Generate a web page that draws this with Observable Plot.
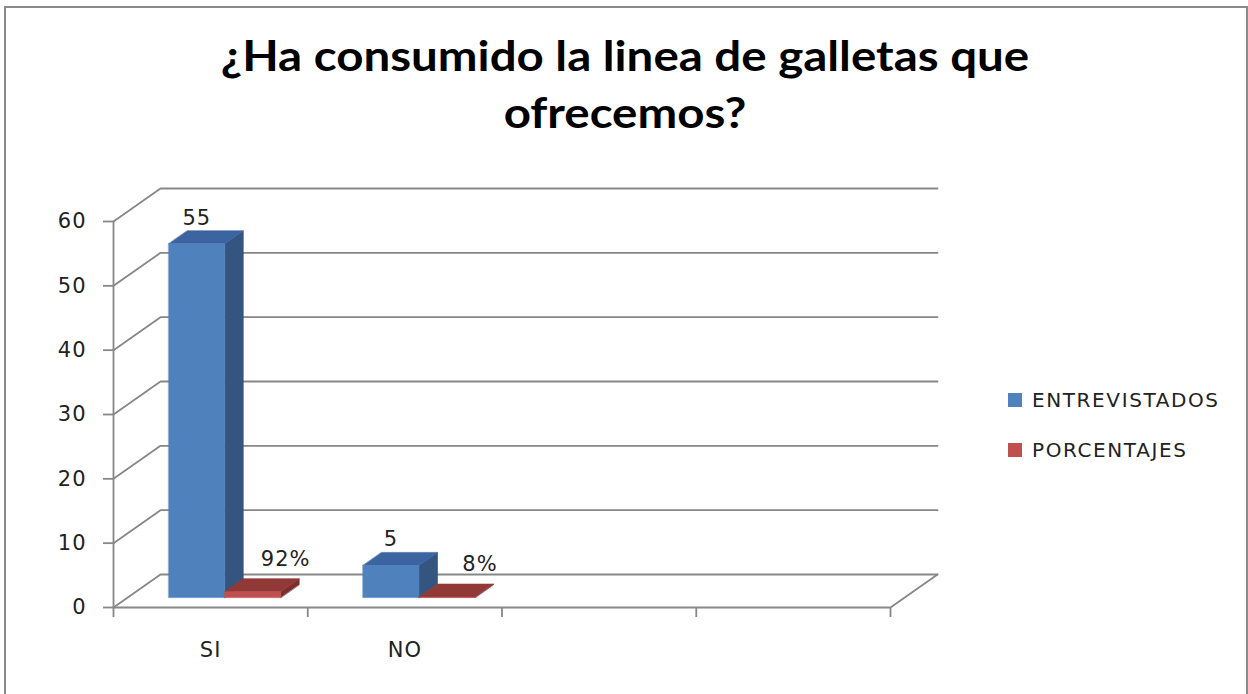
<!DOCTYPE html>
<html>
<head>
<meta charset="utf-8">
<script src="https://cdn.jsdelivr.net/npm/d3@7"></script>
<script src="https://cdn.jsdelivr.net/npm/@observablehq/plot@0.6"></script>
<style>
  html, body { margin: 0; padding: 0; background: #fff; }
  #page { position: relative; width: 1248px; height: 694px; overflow: hidden; background: #fff; }
  #border { position: absolute; left: 4px; top: 6px; width: 1244px; height: 720px; box-sizing: border-box; border: 2px solid #8a8a8a; }
  #title { position: absolute; left: 0; width: 1250px; top: 27px; text-align: center; font-family: Lato, "Open Sans", sans-serif; font-weight: bold; font-size: 42px; line-height: 57px; color: #000; transform: scaleX(1.13); transform-origin: 625px 0; }
  #chart { position: absolute; left: 0; top: 150px; }
  .leg { position: absolute; left: 1008px; font-family: "DejaVu Sans", sans-serif; font-size: 20px; letter-spacing: 1.6px; color: #222; height: 20px; line-height: 20px; }
  .leg span.sw { position: absolute; left: 0; top: 3px; width: 14px; height: 14px; }
  .leg span.tx { position: absolute; left: 24px; top: 0; white-space: nowrap; }
</style>
</head>
<body>
<div id="page">
  <div id="border"></div>
  <div id="title">¿Ha consumido la linea de galletas que<br>ofrecemos?</div>
  <div id="chart"></div>
  <div id="legend"></div>
</div>
<script>
// ---- data ----
const categories = ["SI", "NO", "", ""];
const seriesNames = ["ENTREVISTADOS", "PORCENTAJES"];
const entrevistados = [55, 5];
const porcentajes = [0.92, 0.08];
const porcentajeLabels = ["92%", "8%"];
const yTicks = [0, 10, 20, 30, 40, 50, 60];

// ---- styling / geometry constants ----
const W = 1248, H = 544;
const mL = 113, mR = 358, mT = 71, mB = 87;
const xMax = categories.length, yMax = 60;
const kx = xMax / (W - mL - mR);      // data units per px (x)
const ky = yMax / (H - mT - mB);      // data units per px (y)
const DX = 47, DY = 33;               // depth offset of the back wall (px)
const f0 = 0.30, f1 = 0.695;          // bar depth range (fraction of wall depth)
const barW = 0.288;                   // bar width (category units)
const gridColor = "#878787";
const colors = {
  ENTREVISTADOS: {front: "#4F81BD", top: "#3B64A0", side: "#34557F"},
  PORCENTAJES:   {front: "#C0504D", top: "#913937", side: "#7A2F2D"}
};

const P = (x, y, f) => ({x: x + f * DX * kx, y: y + f * DY * ky});

// bars as polygons
const series = [
  {name: "ENTREVISTADOS", values: entrevistados, off: -barW},
  {name: "PORCENTAJES", values: porcentajes, off: 0}
];
function addPoly(arr, id, pts, series) { pts.forEach((p, k) => arr.push({id, series, x: p.x, y: p.y, k})); }
const marksBars = [];
series.forEach((s, si) => {
  const fr = [], tp = [], sd = [];
  s.values.forEach((v, i) => {
    const x0 = i + 0.5 + s.off, x1 = x0 + barW;
    addPoly(sd, `s${si}${i}`, [P(x1, 0, f0), P(x1, v, f0), P(x1, v, f1), P(x1, 0, f1)], s.name);
    addPoly(tp, `t${si}${i}`, [P(x0, v, f0), P(x1, v, f0), P(x1, v, f1), P(x0, v, f1)], s.name);
    addPoly(fr, `f${si}${i}`, [P(x0, 0, f0), P(x1, 0, f0), P(x1, v, f0), P(x0, v, f0)], s.name);
  });
  const c = colors[s.name];
  [[sd, c.side], [tp, c.top], [fr, c.front]].forEach(([rows, col]) => {
    marksBars.push(Plot.line(rows, {x: "x", y: "y", z: "id", curve: "linear-closed", fill: col, stroke: col, strokeWidth: 0.6}));
  });
});

// walls / grid
const gridSegs = [];
yTicks.forEach((t, j) => {
  const a = P(0, t, 0), b = P(0, t, 1), c = P(xMax, t, 1);
  gridSegs.push({id: "g" + j, x: a.x, y: a.y}, {id: "g" + j, x: b.x, y: b.y}, {id: "g" + j, x: c.x, y: c.y});
});
[P(0, 0, 0), P(xMax, 0, 0), P(xMax, 0, 1)].forEach(p => gridSegs.push({id: "floor", x: p.x, y: p.y}));
[P(0, 0, 0), P(0, yMax, 0)].forEach(p => gridSegs.push({id: "axis", x: p.x, y: p.y}));

const catBounds = d3.range(0, xMax + 1);
const catLabels = categories.map((c, i) => ({x: i + 0.5, label: c})).filter(d => d.label);

const blueLabels = entrevistados.map((v, i) => ({x: i + 0.5 - barW / 2, y: v, label: String(v)}));
const redLabels = porcentajes.map((v, i) => ({x: i + 0.5 + barW / 2, y: v, label: porcentajeLabels[i]}));

const font = "DejaVu Sans, sans-serif";
const fs = 21;
const chart = Plot.plot({
  width: W, height: H,
  marginLeft: mL, marginRight: mR, marginTop: mT, marginBottom: mB,
  x: {domain: [0, xMax], axis: null},
  y: {domain: [0, yMax], axis: null},
  style: {fontFamily: font, background: "transparent", overflow: "visible"},
  marks: [
    Plot.line(gridSegs, {x: "x", y: "y", z: "id", stroke: gridColor, strokeWidth: 1.8}),
    Plot.axisY({ticks: yTicks, label: null, tickSize: 10, tickPadding: 17, stroke: gridColor, strokeWidth: 1.8, fontSize: fs, fill: "#222", tickFormat: d => String(d)}),
    Plot.axisX({ticks: catBounds, label: null, tickSize: 10, tickFormat: () => "", stroke: gridColor, strokeWidth: 1.8}),
    ...marksBars,
    Plot.text(blueLabels, {x: "x", y: "y", text: "label", dx: f0 * DX, dy: -29, lineAnchor: "bottom", fontSize: fs, fill: "#222"}),
    Plot.text(redLabels, {x: "x", y: "y", text: "label", dx: f0 * DX + 33, dy: -36, lineAnchor: "bottom", fontSize: fs, fill: "#222"}),
    Plot.text(catLabels, {x: "x", y: () => 0, text: "label", dy: 43, lineAnchor: "middle", fontSize: fs, fill: "#222"})
  ]
});
chart.querySelectorAll("text").forEach(t => t.style.letterSpacing = "1px");
document.getElementById("chart").appendChild(chart);

// legend
const leg = document.getElementById("legend");
seriesNames.forEach((n, i) => {
  const d = document.createElement("div");
  d.className = "leg";
  d.style.top = (390 + i * 50) + "px";
  d.innerHTML = `<span class="sw" style="background:${colors[n].front}"></span><span class="tx">${n}</span>`;
  leg.appendChild(d);
});
</script>
</body>
</html>
